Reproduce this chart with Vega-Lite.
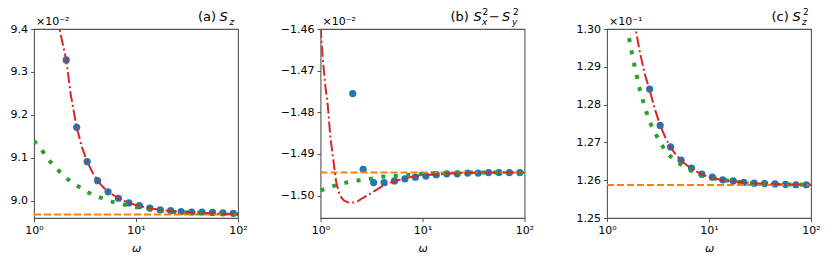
{
  "$schema": "https://vega.github.io/schema/vega-lite/v6.json",
  "padding": {"left": 9, "top": 6, "right": 5, "bottom": 5},
  "bounds": "flush",
  "spacing": 82.5,
  "config": {
    "font": "DejaVu Sans",
    "view": {"stroke": "#555", "strokeWidth": 1.1},
    "axis": {"domain": false, "grid": false, "tickColor": "#555", "tickWidth": 1, "tickSize": 3.5, "labelFontSize": 11, "labelColor": "black", "labelPadding": 3, "labelOverlap": false, "titleFontSize": 11, "titleFontWeight": "normal", "titleColor": "black"}
  },
  "datasets": {
    "a_pts": [{"w":2.07,"v":9.328},{"w":2.62,"v":9.171},{"w":3.32,"v":9.091},{"w":4.2,"v":9.047},{"w":5.32,"v":9.021},{"w":6.73,"v":9.006},{"w":8.51,"v":8.995},{"w":10.79,"v":8.989},{"w":13.65,"v":8.983},{"w":17.28,"v":8.979},{"w":21.88,"v":8.977},{"w":27.7,"v":8.975},{"w":35.1,"v":8.974},{"w":44.4,"v":8.974},{"w":56.2,"v":8.973},{"w":71.1,"v":8.972},{"w":90.0,"v":8.971}],
    "a_red": [{"w":1.72,"v":9.43},{"w":1.78,"v":9.4},{"w":2.07,"v":9.328},{"w":2.3,"v":9.245},{"w":2.62,"v":9.171},{"w":2.95,"v":9.125},{"w":3.32,"v":9.091},{"w":3.75,"v":9.066},{"w":4.2,"v":9.047},{"w":4.75,"v":9.032},{"w":5.32,"v":9.021},{"w":6.73,"v":9.006},{"w":8.51,"v":8.995},{"w":10.79,"v":8.988},{"w":13.65,"v":8.983},{"w":17.28,"v":8.979},{"w":21.88,"v":8.976},{"w":27.7,"v":8.974},{"w":35.1,"v":8.973},{"w":44.4,"v":8.972},{"w":56.2,"v":8.971},{"w":71.1,"v":8.970},{"w":100,"v":8.969}],
    "a_green": [{"w":1.0,"v":9.14},{"w":1.21,"v":9.116},{"w":1.43,"v":9.092},{"w":1.73,"v":9.071},{"w":2.12,"v":9.051},{"w":2.66,"v":9.035},{"w":3.35,"v":9.02},{"w":4.3,"v":9.009},{"w":5.59,"v":8.999},{"w":7.32,"v":8.992},{"w":9.7,"v":8.986},{"w":12.6,"v":8.981},{"w":17,"v":8.977},{"w":25,"v":8.974},{"w":40,"v":8.972},{"w":60,"v":8.970},{"w":100,"v":8.969}],
    "a_ref": [{"w":1,"v":8.968},{"w":100,"v":8.968}],
    "b_pts": [{"w":2.07,"v":-1.4755},{"w":2.62,"v":-1.4937},{"w":3.32,"v":-1.4969},{"w":4.2,"v":-1.4969},{"w":5.32,"v":-1.4965},{"w":6.73,"v":-1.496},{"w":8.51,"v":-1.4956},{"w":10.79,"v":-1.4953},{"w":13.65,"v":-1.495},{"w":17.28,"v":-1.4948},{"w":21.88,"v":-1.4948},{"w":27.7,"v":-1.4946},{"w":35.1,"v":-1.4946},{"w":44.4,"v":-1.4945},{"w":56.2,"v":-1.4945},{"w":71.1,"v":-1.4945},{"w":90.0,"v":-1.4945}],
    "b_red": [{"w":1.0,"v":-1.4595},{"w":1.06,"v":-1.468},{"w":1.12,"v":-1.474},{"w":1.18,"v":-1.4785},{"w":1.25,"v":-1.486},{"w":1.32,"v":-1.4905},{"w":1.42,"v":-1.4965},{"w":1.5,"v":-1.499},{"w":1.6,"v":-1.5005},{"w":1.72,"v":-1.5013},{"w":1.9,"v":-1.5017},{"w":2.1,"v":-1.5017},{"w":2.35,"v":-1.5013},{"w":2.6,"v":-1.5006},{"w":3.0,"v":-1.4997},{"w":3.5,"v":-1.4987},{"w":4.0,"v":-1.4978},{"w":5.0,"v":-1.4968},{"w":6.4,"v":-1.496},{"w":8.6,"v":-1.4953},{"w":12,"v":-1.495},{"w":17,"v":-1.4948},{"w":25,"v":-1.4946},{"w":40,"v":-1.4945},{"w":100,"v":-1.4945}],
    "b_green": [{"w":1.0,"v":-1.4988},{"w":1.35,"v":-1.4977},{"w":1.78,"v":-1.4969},{"w":2.32,"v":-1.4964},{"w":3.06,"v":-1.496},{"w":3.98,"v":-1.4955},{"w":5.3,"v":-1.4953},{"w":7.0,"v":-1.4951},{"w":10,"v":-1.4948},{"w":15,"v":-1.4946},{"w":25,"v":-1.4945},{"w":100,"v":-1.4945}],
    "b_ref": [{"w":1,"v":-1.4945},{"w":100,"v":-1.4945}],
    "c_pts": [{"w":2.62,"v":1.2841},{"w":3.32,"v":1.2745},{"w":4.2,"v":1.2688},{"w":5.32,"v":1.2653},{"w":6.73,"v":1.2632},{"w":8.51,"v":1.2616},{"w":10.79,"v":1.2608},{"w":13.65,"v":1.2601},{"w":17.28,"v":1.2598},{"w":21.88,"v":1.2594},{"w":27.7,"v":1.2592},{"w":35.1,"v":1.2591},{"w":44.4,"v":1.259},{"w":56.2,"v":1.2589},{"w":71.1,"v":1.2588},{"w":90.0,"v":1.2588}],
    "c_red": [{"w":1.85,"v":1.303},{"w":1.91,"v":1.3},{"w":2.09,"v":1.2941},{"w":2.35,"v":1.288},{"w":2.62,"v":1.2838},{"w":2.95,"v":1.2788},{"w":3.32,"v":1.2745},{"w":3.75,"v":1.2712},{"w":4.2,"v":1.2687},{"w":4.75,"v":1.2667},{"w":5.32,"v":1.2652},{"w":6.73,"v":1.263},{"w":8.51,"v":1.2615},{"w":10.79,"v":1.2606},{"w":13.65,"v":1.26},{"w":17.28,"v":1.2597},{"w":21.88,"v":1.2594},{"w":27.7,"v":1.2592},{"w":35.1,"v":1.2591},{"w":55.8,"v":1.2589},{"w":100,"v":1.2588}],
    "c_green": [{"w":1.55,"v":1.3008},{"w":1.644,"v":1.2976},{"w":1.733,"v":1.2943},{"w":1.827,"v":1.2912},{"w":1.94,"v":1.2881},{"w":2.061,"v":1.2847},{"w":2.222,"v":1.2816},{"w":2.396,"v":1.2785},{"w":2.622,"v":1.2754},{"w":2.959,"v":1.2725},{"w":3.388,"v":1.2696},{"w":3.879,"v":1.2671},{"w":4.86,"v":1.2648},{"w":6.1,"v":1.263},{"w":7.99,"v":1.2615},{"w":11,"v":1.2605},{"w":16,"v":1.2598},{"w":25,"v":1.2592},{"w":50,"v":1.2589},{"w":100,"v":1.2588}],
    "c_ref": [{"w":1,"v":1.2587},{"w":100,"v":1.2587}]
  },
  "hconcat": [
    {
      "width": 204, "height": 189,
      "layer": [
        {"data": {"name": "a_pts"}, "mark": {"type": "point", "filled": true, "size": 52, "opacity": 1, "color": "#1f77b4", "clip": true},
         "encoding": {
          "x": {"field": "w", "type": "quantitative", "scale": {"type": "log", "domain": [1, 100], "nice": false}, "axis": {"values": [1, 10, 100], "tickCount": 10, "labelExpr": "datum.value == 1 ? '10⁰' : datum.value == 10 ? '10¹' : '10²'", "title": "ω", "titleFontStyle": "italic", "labelFlush": false, "titlePadding": 7}},
          "y": {"field": "v", "type": "quantitative", "scale": {"domain": [8.96, 9.4], "nice": false, "zero": false}, "axis": {"values": [9.0, 9.1, 9.2, 9.3, 9.4], "tickCount": 10, "format": ".1f", "title": null}}}},
        {"data": {"name": "a_ref"}, "mark": {"type": "line", "color": "#ff7f0e", "strokeWidth": 2, "strokeDash": [7, 3], "clip": true}, "encoding": {"x": {"field": "w", "type": "quantitative"}, "y": {"field": "v", "type": "quantitative"}}},
        {"data": {"name": "a_green"}, "mark": {"type": "line", "color": "#2ca02c", "strokeWidth": 4, "strokeDash": [4, 8.5], "strokeCap": "butt", "clip": true}, "encoding": {"x": {"field": "w", "type": "quantitative"}, "y": {"field": "v", "type": "quantitative"}}},
        {"data": {"name": "a_red"}, "mark": {"type": "line", "color": "#d62728", "strokeWidth": 2, "strokeDash": [11, 3, 2, 3], "clip": true}, "encoding": {"x": {"field": "w", "type": "quantitative"}, "y": {"field": "v", "type": "quantitative"}}},
        {"data": {"values": [{}]}, "mark": {"type": "text", "align": "left", "baseline": "alphabetic", "fontSize": 11, "dx": 2, "dy": -4}, "encoding": {"text": {"value": "×10⁻²"}, "x": {"datum": 1, "type": "quantitative"}, "y": {"datum": 9.4, "type": "quantitative"}}},
        {"data": {"values": [{}]}, "mark": {"type": "text", "align": "left", "baseline": "alphabetic", "fontSize": 13, "dx": -40, "dy": -8}, "encoding": {"text": {"value": "(a)"}, "x": {"datum": 100, "type": "quantitative"}, "y": {"datum": 9.4, "type": "quantitative"}}},
        {"data": {"values": [{}]}, "mark": {"type": "text", "align": "left", "baseline": "alphabetic", "fontSize": 13, "fontStyle": "italic", "dx": -18.5, "dy": -8}, "encoding": {"text": {"value": "S"}, "x": {"datum": 100, "type": "quantitative"}, "y": {"datum": 9.4, "type": "quantitative"}}},
        {"data": {"values": [{}]}, "mark": {"type": "text", "align": "left", "baseline": "alphabetic", "fontSize": 9, "fontStyle": "italic", "dx": -8.5, "dy": -4.5}, "encoding": {"text": {"value": "z"}, "x": {"datum": 100, "type": "quantitative"}, "y": {"datum": 9.4, "type": "quantitative"}}}
      ]
    },
    {
      "width": 204, "height": 189,
      "layer": [
        {"data": {"name": "b_pts"}, "mark": {"type": "point", "filled": true, "size": 52, "opacity": 1, "color": "#1f77b4", "clip": true},
         "encoding": {
          "x": {"field": "w", "type": "quantitative", "scale": {"type": "log", "domain": [1, 100], "nice": false}, "axis": {"values": [1, 10, 100], "tickCount": 10, "labelExpr": "datum.value == 1 ? '10⁰' : datum.value == 10 ? '10¹' : '10²'", "title": "ω", "titleFontStyle": "italic", "labelFlush": false, "titlePadding": 7}},
          "y": {"field": "v", "type": "quantitative", "scale": {"domain": [-1.5054, -1.46], "nice": false, "zero": false}, "axis": {"values": [-1.5, -1.49, -1.48, -1.47, -1.46], "tickCount": 10, "format": ".2f", "title": null}}}},
        {"data": {"name": "b_ref"}, "mark": {"type": "line", "color": "#ff7f0e", "strokeWidth": 2, "strokeDash": [7, 3], "clip": true}, "encoding": {"x": {"field": "w", "type": "quantitative"}, "y": {"field": "v", "type": "quantitative"}}},
        {"data": {"name": "b_green"}, "mark": {"type": "line", "color": "#2ca02c", "strokeWidth": 4, "strokeDash": [4, 8.5], "strokeCap": "butt", "clip": true}, "encoding": {"x": {"field": "w", "type": "quantitative"}, "y": {"field": "v", "type": "quantitative"}}},
        {"data": {"name": "b_red"}, "mark": {"type": "line", "color": "#d62728", "strokeWidth": 2, "strokeDash": [11, 3, 2, 3], "clip": true}, "encoding": {"x": {"field": "w", "type": "quantitative"}, "y": {"field": "v", "type": "quantitative"}}},
        {"data": {"values": [{}]}, "mark": {"type": "text", "align": "left", "baseline": "alphabetic", "fontSize": 11, "dx": 2, "dy": -4}, "encoding": {"text": {"value": "×10⁻²"}, "x": {"datum": 1, "type": "quantitative"}, "y": {"datum": -1.46, "type": "quantitative"}}},
        {"data": {"values": [{}]}, "mark": {"type": "text", "align": "left", "baseline": "alphabetic", "fontSize": 13, "dx": -74, "dy": -8}, "encoding": {"text": {"value": "(b)"}, "x": {"datum": 100, "type": "quantitative"}, "y": {"datum": -1.46, "type": "quantitative"}}},
        {"data": {"values": [{}]}, "mark": {"type": "text", "align": "left", "baseline": "alphabetic", "fontSize": 13, "fontStyle": "italic", "dx": -51, "dy": -8}, "encoding": {"text": {"value": "S"}, "x": {"datum": 100, "type": "quantitative"}, "y": {"datum": -1.46, "type": "quantitative"}}},
        {"data": {"values": [{}]}, "mark": {"type": "text", "align": "left", "baseline": "alphabetic", "fontSize": 9, "fontStyle": "italic", "dx": -42.5, "dy": -4.5}, "encoding": {"text": {"value": "x"}, "x": {"datum": 100, "type": "quantitative"}, "y": {"datum": -1.46, "type": "quantitative"}}},
        {"data": {"values": [{}]}, "mark": {"type": "text", "align": "left", "baseline": "alphabetic", "fontSize": 9, "dx": -42, "dy": -14.5}, "encoding": {"text": {"value": "2"}, "x": {"datum": 100, "type": "quantitative"}, "y": {"datum": -1.46, "type": "quantitative"}}},
        {"data": {"values": [{}]}, "mark": {"type": "text", "align": "left", "baseline": "alphabetic", "fontSize": 13, "dx": -35.5, "dy": -8}, "encoding": {"text": {"value": "−"}, "x": {"datum": 100, "type": "quantitative"}, "y": {"datum": -1.46, "type": "quantitative"}}},
        {"data": {"values": [{}]}, "mark": {"type": "text", "align": "left", "baseline": "alphabetic", "fontSize": 13, "fontStyle": "italic", "dx": -22.5, "dy": -8}, "encoding": {"text": {"value": "S"}, "x": {"datum": 100, "type": "quantitative"}, "y": {"datum": -1.46, "type": "quantitative"}}},
        {"data": {"values": [{}]}, "mark": {"type": "text", "align": "left", "baseline": "alphabetic", "fontSize": 9, "fontStyle": "italic", "dx": -12.5, "dy": -4.5}, "encoding": {"text": {"value": "y"}, "x": {"datum": 100, "type": "quantitative"}, "y": {"datum": -1.46, "type": "quantitative"}}},
        {"data": {"values": [{}]}, "mark": {"type": "text", "align": "left", "baseline": "alphabetic", "fontSize": 9, "dx": -11.5, "dy": -14.5}, "encoding": {"text": {"value": "2"}, "x": {"datum": 100, "type": "quantitative"}, "y": {"datum": -1.46, "type": "quantitative"}}}
      ]
    },
    {
      "width": 204, "height": 189,
      "layer": [
        {"data": {"name": "c_pts"}, "mark": {"type": "point", "filled": true, "size": 52, "opacity": 1, "color": "#1f77b4", "clip": true},
         "encoding": {
          "x": {"field": "w", "type": "quantitative", "scale": {"type": "log", "domain": [1, 100], "nice": false}, "axis": {"values": [1, 10, 100], "tickCount": 10, "labelExpr": "datum.value == 1 ? '10⁰' : datum.value == 10 ? '10¹' : '10²'", "title": "ω", "titleFontStyle": "italic", "labelFlush": false, "titlePadding": 7}},
          "y": {"field": "v", "type": "quantitative", "scale": {"domain": [1.25, 1.3], "nice": false, "zero": false}, "axis": {"values": [1.25, 1.26, 1.27, 1.28, 1.29, 1.3], "tickCount": 10, "format": ".2f", "title": null}}}},
        {"data": {"name": "c_ref"}, "mark": {"type": "line", "color": "#ff7f0e", "strokeWidth": 2, "strokeDash": [7, 3], "clip": true}, "encoding": {"x": {"field": "w", "type": "quantitative"}, "y": {"field": "v", "type": "quantitative"}}},
        {"data": {"name": "c_green"}, "mark": {"type": "line", "color": "#2ca02c", "strokeWidth": 4, "strokeDash": [4, 8.5], "strokeCap": "butt", "clip": true}, "encoding": {"x": {"field": "w", "type": "quantitative"}, "y": {"field": "v", "type": "quantitative"}}},
        {"data": {"name": "c_red"}, "mark": {"type": "line", "color": "#d62728", "strokeWidth": 2, "strokeDash": [11, 3, 2, 3], "clip": true}, "encoding": {"x": {"field": "w", "type": "quantitative"}, "y": {"field": "v", "type": "quantitative"}}},
        {"data": {"values": [{}]}, "mark": {"type": "text", "align": "left", "baseline": "alphabetic", "fontSize": 11, "dx": 2, "dy": -4}, "encoding": {"text": {"value": "×10⁻¹"}, "x": {"datum": 1, "type": "quantitative"}, "y": {"datum": 1.3, "type": "quantitative"}}},
        {"data": {"values": [{}]}, "mark": {"type": "text", "align": "left", "baseline": "alphabetic", "fontSize": 13, "dx": -39.5, "dy": -8}, "encoding": {"text": {"value": "(c)"}, "x": {"datum": 100, "type": "quantitative"}, "y": {"datum": 1.3, "type": "quantitative"}}},
        {"data": {"values": [{}]}, "mark": {"type": "text", "align": "left", "baseline": "alphabetic", "fontSize": 13, "fontStyle": "italic", "dx": -18.5, "dy": -8}, "encoding": {"text": {"value": "S"}, "x": {"datum": 100, "type": "quantitative"}, "y": {"datum": 1.3, "type": "quantitative"}}},
        {"data": {"values": [{}]}, "mark": {"type": "text", "align": "left", "baseline": "alphabetic", "fontSize": 9, "fontStyle": "italic", "dx": -9, "dy": -4.5}, "encoding": {"text": {"value": "z"}, "x": {"datum": 100, "type": "quantitative"}, "y": {"datum": 1.3, "type": "quantitative"}}},
        {"data": {"values": [{}]}, "mark": {"type": "text", "align": "left", "baseline": "alphabetic", "fontSize": 9, "dx": -8, "dy": -14.5}, "encoding": {"text": {"value": "2"}, "x": {"datum": 100, "type": "quantitative"}, "y": {"datum": 1.3, "type": "quantitative"}}}
      ]
    }
  ]
}
